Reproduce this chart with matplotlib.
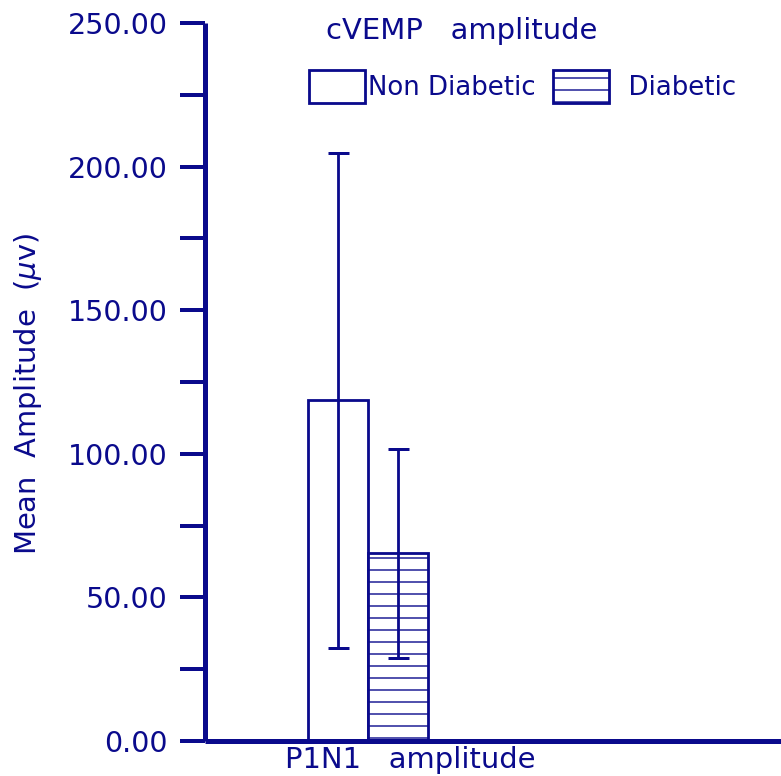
import matplotlib
matplotlib.use("Agg")
import matplotlib.pyplot as plt
from matplotlib.patches import Patch

groups = ["Non Diabetic", "Diabetic"]
means = [118.6, 65.3]
sds = [86.2, 36.4]
category = "P1N1   amplitude"
title = "cVEMP   amplitude"
ylabel = r"Mean  Amplitude  ($\mu$v)"
yticks = [0, 50, 100, 150, 200, 250]
yminor = [25, 75, 125, 175, 225]

navy = "#0a0a8c"
plt.rcParams["font.family"] = ["DejaVu Sans"]
plt.rcParams["mathtext.fontset"] = "dejavusans"
plt.rcParams["hatch.color"] = navy
plt.rcParams["hatch.linewidth"] = 1.4

DPI = 72
fig = plt.figure(figsize=(781 / DPI, 776 / DPI), dpi=DPI)
W, H = 781, 776
left, right, top, bottom = 205, 790, 23, 741
ax = fig.add_axes([left / W, 1 - bottom / H, (right - left) / W, (bottom - top) / H])

xs = [0, 1]
hatches = ["", "-"]
for x, m, s, h, g in zip(xs, means, sds, hatches, groups):
    ax.bar(x, m, width=1.0, facecolor="white", edgecolor=navy,
           linewidth=2.8, hatch=h, label=g, zorder=2)
    ax.errorbar(x, m, yerr=s, fmt="none", ecolor=navy, elinewidth=2.8,
                capsize=10.5, capthick=3, zorder=3)

ax.set_xlim(-2.217, 7.53)
ax.set_ylim(0, 250)
for sp in ["top", "right"]:
    ax.spines[sp].set_visible(False)
for sp in ["left", "bottom"]:
    ax.spines[sp].set_color(navy)
    ax.spines[sp].set_linewidth(5)
    ax.spines[sp].set_capstyle("butt")

ax.set_yticks(yticks)
ax.set_yticklabels([f"{v:.2f}" for v in yticks])
ax.set_yticks(yminor, minor=True)
ax.tick_params(axis="y", which="both", length=25, width=4, color=navy,
               labelcolor=navy, labelsize=28.5, pad=12)
ax.set_xticks([1.2])
ax.set_xticklabels([category])
ax.tick_params(axis="x", length=0, labelcolor=navy, labelsize=29, pad=5)

fig.text(28 / W, 1 - 394 / H, ylabel, rotation=90, ha="center", va="center",
         color=navy, fontsize=29)
fig.text(462 / W, 1 - 31 / H, title, ha="center", va="center",
         color=navy, fontsize=29)

handles = [Patch(facecolor="white", edgecolor=navy, linewidth=2.8, hatch=h)
           for h in hatches]
leg = fig.legend(handles, [groups[0], "  " + groups[1]], loc="upper left",
                 bbox_to_anchor=(309 / W, 1 - 70 / H), ncol=2, frameon=False,
                 fontsize=26, handlelength=2.15, handleheight=1.6,
                 handletextpad=0.12, columnspacing=0.68, borderpad=0,
                 borderaxespad=0)
for t in leg.get_texts():
    t.set_color(navy)

fig.savefig("out.png", dpi=DPI, facecolor="white")
